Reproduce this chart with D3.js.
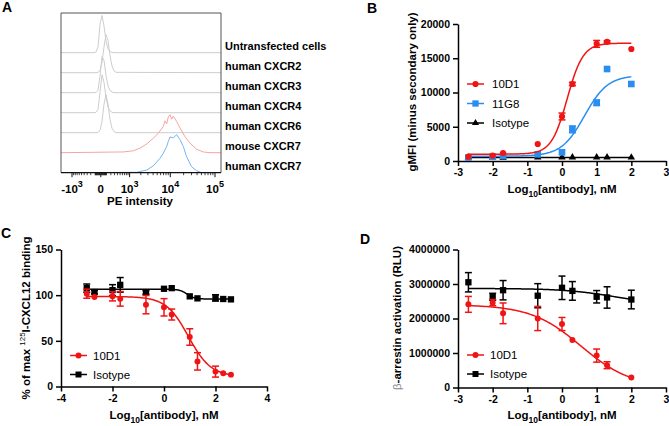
<!DOCTYPE html>
<html><head><meta charset="utf-8">
<script src="https://cdn.jsdelivr.net/npm/d3@7"></script>
<style>
body{margin:0;background:#fff}
svg{display:block}
text{font-family:Arial,"Liberation Sans",sans-serif}
</style>
</head><body>
<svg id="chart" width="669" height="426"></svg>
<script>
// ================= DATA =================
// Panel A: flow cytometry histograms (% of mode vs PE intensity)
const histLabels = ["Untransfected cells","human CXCR2","human CXCR3","human CXCR4","human CXCR6","mouse CXCR7","human CXCR7"];
const grayBins = [-124,-83,-46,-12,19,53,91,133,179,230,287,350];
const untransfected = [0,2,15,75,98,70,30,10,3,1,0,0];
const humanCXCR2   = [0,0,1,6,28,68,100,85,45,18,5,1];
const humanCXCR3   = [0,1,6,45,95,85,45,18,6,2,0,0];
const humanCXCR4   = [0,1,8,55,100,80,40,15,5,1,0,0];
const humanCXCR6   = [0,0,1,6,30,75,100,75,35,12,3,0];
const redBins  = [640,1270,1905,2800,4040,5300,6920,7560,8280,9000,9850,10770,11700,13970,16590,21480,27790,39190,54960,77400];
const mouseCXCR7 = [2,5,12,23,38,51,69,84,76,94,100,88,96,82,65,42,25,9,2,0];
const blueBins = [1560,2800,4040,5800,6920,8280,9000,9850,11700,13970,16590,19700,23400,30000,39190,50400];
const humanCXCR7 = [1,7,18,38,51,69,82,94,92,100,87,69,42,16,5,0];
const aTickValues = [-1000,0,1000,10000,100000];
const aTickBase = ["-10","0","10","10","10"];
const aTickExp  = ["3","","3","4","5"];

// Panel B: binding (gMFI)
const logConcB = [-2.7,-2,-1.7,-0.7,0,0.3,1,1.3,2];
const b10D1    = [630,780,1170,2480,6500,11240,17100,17400,16350];
const b10D1Err = [0,0,0,0,500,250,500,150,0];
const b11G8    = [500,630,780,970,1265,4620,8500,13430,11240];
const b11G8Err = [0,0,0,0,0,500,400,0,0];
const bIso     = [520,510,500,520,530,540,540,530,520];
const bIsoErr  = [0,0,0,0,0,0,0,0,0];
// 4PL fit parameters [bottom, top, logEC50, hill]
const fitB10D1 = [1000,17200,0.15,1.9];
const fitB11G8 = [700,12500,0.65,1.3];
const fitBIso  = [525,525,0,1];
const bYTicks = [0,5000,10000,15000,20000];
const bXTicks = [-3,-2,-1,0,1,2,3];

// Panel C: 125I-CXCL12 binding
const logConcC = [-3,-2.7,-2,-1.7,-0.7,0,0.3,1,1.3,2,2.3,2.6];
const c10D1    = [101.6,98,98.7,96,89.6,86.7,78.8,54.2,27.5,16.3,14.5,13];
const c10D1Err = [5,0,5,8,10,9.5,6,9,9.5,6,0,0];
const cIso     = [107.7,103.4,105.5,111.3,103,107,107.7,98.7,96.5,97,95.8,95.4];
const cIsoErr  = [4.5,2,6,8,2,0,0,0,0,3.5,0,0];
const fitC10D1 = [11,98.5,0.95,-1.0];
const fitCIso  = [95.8,106.5,0.9,-3];
const cYTicks = [0,50,100,150];
const cXTicks = [-4,-2,0,2,4];

// Panel D: beta-arrestin activation
const logConcD = [-2.7,-2,-1.7,-0.7,0,0.3,1,1.3,2];
const d10D1    = [2410000,2460000,2150000,2000000,1840000,1380000,925000,646000,290000];
const d10D1Err = [230000,90000,300000,350000,190000,0,190000,100000,0];
const dIso     = [3050000,2630000,2820000,2660000,2890000,2800000,2630000,2610000,2550000];
const dIsoErr  = [280000,100000,280000,350000,340000,270000,180000,310000,270000];
const fitD10D1 = [0,2400000,0.55,-0.6];
const fitDIso  = [2400000,2870000,1.5,-0.6];
const dYTicks = [0,1000000,2000000,3000000,4000000];
const dXTicks = [-3,-2,-1,0,1,2,3];

// ================= DRAWING =================
const RED = "#f01414", BLUE = "#2a8ef0", BLACK = "#000";
const svg = d3.select("#chart");
const FONT = 'Arial,"Liberation Sans",sans-serif';

function panelLabel(t, x, y){
  svg.append("text").attr("x",x).attr("y",y).attr("font-size",14).attr("font-weight","bold").text(t);
}

// ---------- Panel A ----------
panelLabel("A", 2, 12);
const A = {left:61, right:221, top:13, bottom:172.7};
const xA = d3.scaleSymlog().constant(300).domain([-1000,100000]).range([72,215]);
const rowBase = i => A.bottom - 20*(6-i);
const peakH = 38;
const gA = svg.append("g");
gA.append("defs").append("clipPath").attr("id","clipA")
  .append("rect").attr("x",A.left).attr("y",A.top).attr("width",A.right-A.left).attr("height",A.bottom-A.top);
const traces = [
  {bins:grayBins, vals:untransfected, color:"#cdcdcd"},
  {bins:grayBins, vals:humanCXCR2, color:"#cdcdcd"},
  {bins:grayBins, vals:humanCXCR3, color:"#cdcdcd"},
  {bins:grayBins, vals:humanCXCR4, color:"#cdcdcd"},
  {bins:grayBins, vals:humanCXCR6, color:"#cdcdcd"},
  {bins:redBins, vals:mouseCXCR7, color:"#f6a3a3"},
  {bins:blueBins, vals:humanCXCR7, color:"#74b4f2"}
];
const lo = xA.invert(A.left-2), hi = xA.invert(A.right+2);
traces.forEach((t,i)=>{
  const base = rowBase(i);
  const yS = d3.scaleLinear().domain([0,100]).range([base, base-peakH]);
  const pts = [[lo,0]].concat(t.bins.map((b,k)=>[b,t.vals[k]])).concat([[hi,0]]);
  const line = d3.line().x(d=>xA(d[0])).y(d=>yS(d[1]));
  gA.append("path").attr("d",line(pts)).attr("fill","none").attr("stroke",t.color)
    .attr("stroke-width",1).attr("clip-path","url(#clipA)");
});
// box
gA.append("path").attr("d",`M${A.left},${A.bottom}V${A.top}H${A.right}V${A.bottom}`)
  .attr("fill","none").attr("stroke","#555").attr("stroke-width",1);
gA.append("line").attr("x1",A.left).attr("x2",A.right).attr("y1",A.bottom).attr("y2",A.bottom)
  .attr("stroke","#111").attr("stroke-width",1.2);
// ticks
const minorA = [];
d3.range(-900,0,100).forEach(v=>minorA.push(v));
d3.range(-90,0,10).forEach(v=>minorA.push(v));
d3.range(10,100,10).forEach(v=>minorA.push(v));
d3.range(100,1000,100).forEach(v=>minorA.push(v));
d3.range(2000,10000,1000).forEach(v=>minorA.push(v));
d3.range(20000,100000,10000).forEach(v=>minorA.push(v));
minorA.forEach(v=>{
  gA.append("line").attr("x1",xA(v)).attr("x2",xA(v)).attr("y1",A.bottom).attr("y2",A.bottom+2.5)
    .attr("stroke","#111").attr("stroke-width",0.8);
});
aTickValues.forEach((v,k)=>{
  const x = xA(v);
  gA.append("line").attr("x1",x).attr("x2",x).attr("y1",A.bottom).attr("y2",A.bottom+4.5)
    .attr("stroke","#111").attr("stroke-width",1);
  const t = gA.append("text").attr("x",x).attr("y",193).attr("text-anchor","middle")
    .attr("font-size",11.5).attr("font-weight","bold");
  t.append("tspan").text(aTickBase[k]);
  if(aTickExp[k]) t.append("tspan").attr("dy",-6).attr("font-size",9).text(aTickExp[k]);
});
gA.append("text").attr("x",140).attr("y",205).attr("text-anchor","middle")
  .attr("font-size",11.5).attr("font-weight","bold").text("PE intensity");
histLabels.forEach((l,i)=>{
  gA.append("text").attr("x",225).attr("y",rowBase(i)-6.5).attr("dy","0.35em")
    .attr("font-size",11).attr("font-weight","bold").text(l);
});

// ---------- helpers for XY panels ----------
function fourPL(p, x){ return p[0] + (p[1]-p[0])/(1+Math.pow(10,(p[2]-x)*p[3])); }

function axes(g, x, y, xTicks, yTicks, x0, y0){
  const ax = g.append("g").attr("transform",`translate(0,${y0})`)
    .call(d3.axisBottom(x).tickValues(xTicks).tickSize(5).tickSizeOuter(0).tickPadding(3).tickFormat(d3.format("d")));
  const ay = g.append("g").attr("transform",`translate(${x0},0)`)
    .call(d3.axisLeft(y).tickValues(yTicks).tickSize(5).tickSizeOuter(0).tickPadding(3).tickFormat(d3.format("d")));
  [ax,ay].forEach(a=>{
    a.select(".domain").attr("stroke","#000").attr("stroke-width",1.5);
    a.selectAll(".tick line").attr("stroke","#000").attr("stroke-width",1.5);
    a.selectAll(".tick text").attr("font-family",FONT).attr("font-size",10.5).attr("font-weight","bold").attr("fill","#000");
  });
  ax.selectAll(".tick text").text(d=> d<0 ? "-"+Math.abs(d) : d);
}

function series(g, x, y, xs, ys, errs, fit, xr, color, symbolType, size){
  const pts = d3.range(0,201).map(i=>{const xv = xr[0]+(xr[1]-xr[0])*i/200; return [xv, fourPL(fit,xv)];});
  g.append("path").attr("d",d3.line().x(d=>x(d[0])).y(d=>y(d[1]))(pts))
    .attr("fill","none").attr("stroke",color).attr("stroke-width",1.5);
  xs.forEach((xv,k)=>{
    const e = errs[k];
    if(e>0){
      const cx = x(xv);
      g.append("line").attr("x1",cx).attr("x2",cx).attr("y1",y(ys[k]-e)).attr("y2",y(ys[k]+e))
        .attr("stroke",color).attr("stroke-width",1.5);
      [ys[k]-e, ys[k]+e].forEach(v=>g.append("line").attr("x1",cx-3.5).attr("x2",cx+3.5)
        .attr("y1",y(v)).attr("y2",y(v)).attr("stroke",color).attr("stroke-width",1.5));
    }
  });
  const sym = d3.symbol().type(symbolType).size(size);
  xs.forEach((xv,k)=>{
    g.append("path").attr("d",sym()).attr("transform",`translate(${x(xv)},${y(ys[k])})`).attr("fill",color);
  });
}

function legend(g, items, x0, x1, tx){
  items.forEach(it=>{
    g.append("line").attr("x1",x0).attr("x2",x1).attr("y1",it.y).attr("y2",it.y)
      .attr("stroke",it.color).attr("stroke-width",1.5);
    g.append("path").attr("d",d3.symbol().type(it.sym).size(it.size)())
      .attr("transform",`translate(${(x0+x1)/2},${it.y})`).attr("fill",it.color);
    g.append("text").attr("x",tx).attr("y",it.y).attr("dy","0.36em").attr("font-size",11.5).text(it.label);
  });
}

function xTitle(g, cx, y){
  const t = g.append("text").attr("x",cx).attr("y",y).attr("text-anchor","middle")
    .attr("font-size",11.5).attr("font-weight","bold");
  t.append("tspan").text("Log");
  t.append("tspan").attr("dy",3.5).attr("font-size",8.5).text("10");
  t.append("tspan").attr("dy",-3.5).text("[antibody], nM");
}

// ---------- Panel B ----------
panelLabel("B", 367, 13);
const gB = svg.append("g");
const xB = d3.scaleLinear().domain([-3,3]).range([458,666]);
const yB = d3.scaleLinear().domain([0,20000]).range([161,24]);
axes(gB, xB, yB, bXTicks, bYTicks, 458, 161);
series(gB, xB, yB, logConcB, bIso, bIsoErr, fitBIso, [-2.7,2], BLACK, d3.symbolTriangle, 24);
series(gB, xB, yB, logConcB, b11G8, b11G8Err, fitB11G8, [-2.7,2], BLUE, d3.symbolSquare, 44);
series(gB, xB, yB, logConcB, b10D1, b10D1Err, fitB10D1, [-2.7,2], RED, d3.symbolCircle, 30);
legend(gB, [
  {y:84, color:RED, sym:d3.symbolCircle, size:30, label:"10D1"},
  {y:103.5, color:BLUE, sym:d3.symbolSquare, size:40, label:"11G8"},
  {y:123, color:BLACK, sym:d3.symbolTriangle, size:22, label:"Isotype"}
], 467, 484, 492);
gB.append("text").attr("transform","translate(416,92) rotate(-90)").attr("text-anchor","middle")
  .attr("font-size",11.5).attr("font-weight","bold").text("gMFI (minus secondary only)");
xTitle(gB, 562, 193);

// ---------- Panel C ----------
panelLabel("C", 1, 238);
const gC = svg.append("g");
const xC = d3.scaleLinear().domain([-4,4]).range([61,267]);
const yC = d3.scaleLinear().domain([0,150]).range([386.5,249.5]);
axes(gC, xC, yC, cXTicks, cYTicks, 61, 386.5);
series(gC, xC, yC, logConcC, cIso, cIsoErr, fitCIso, [-3,2.6], BLACK, d3.symbolSquare, 40);
series(gC, xC, yC, logConcC, c10D1, c10D1Err, fitC10D1, [-3,2.6], RED, d3.symbolCircle, 28);
legend(gC, [
  {y:355.5, color:RED, sym:d3.symbolCircle, size:28, label:"10D1"},
  {y:374.5, color:BLACK, sym:d3.symbolSquare, size:36, label:"Isotype"}
], 70, 87, 93);
{
  const t = gC.append("text").attr("transform","translate(30,318) rotate(-90)").attr("text-anchor","middle")
    .attr("font-size",11.5).attr("font-weight","bold");
  t.append("tspan").text("% of max ");
  t.append("tspan").attr("dy",-5).attr("font-size",8).attr("font-weight","normal").text("125");
  t.append("tspan").attr("dy",5).text("I-CXCL12 binding");
}
xTitle(gC, 164, 419);

// ---------- Panel D ----------
panelLabel("D", 360, 244);
const gD = svg.append("g");
const xD = d3.scaleLinear().domain([-3,3]).range([458,666]);
const yD = d3.scaleLinear().domain([0,4000000]).range([387.5,249.5]);
axes(gD, xD, yD, dXTicks, dYTicks, 458, 387.5);
series(gD, xD, yD, logConcD, dIso, dIsoErr, fitDIso, [-2.7,2], BLACK, d3.symbolSquare, 40);
series(gD, xD, yD, logConcD, d10D1, d10D1Err, fitD10D1, [-2.7,2], RED, d3.symbolCircle, 28);
legend(gD, [
  {y:355, color:RED, sym:d3.symbolCircle, size:28, label:"10D1"},
  {y:374, color:BLACK, sym:d3.symbolSquare, size:36, label:"Isotype"}
], 467, 484, 490);
{
  const t = gD.append("text").attr("transform","translate(401,318) rotate(-90)").attr("text-anchor","middle")
    .attr("font-size",11.5).attr("font-weight","bold");
  t.append("tspan").attr("font-weight","normal").attr("fill","#888").text("β");
  t.append("tspan").text("-arrestin activation (RLU)");
}
xTitle(gD, 562, 419);
</script>
</body></html>
